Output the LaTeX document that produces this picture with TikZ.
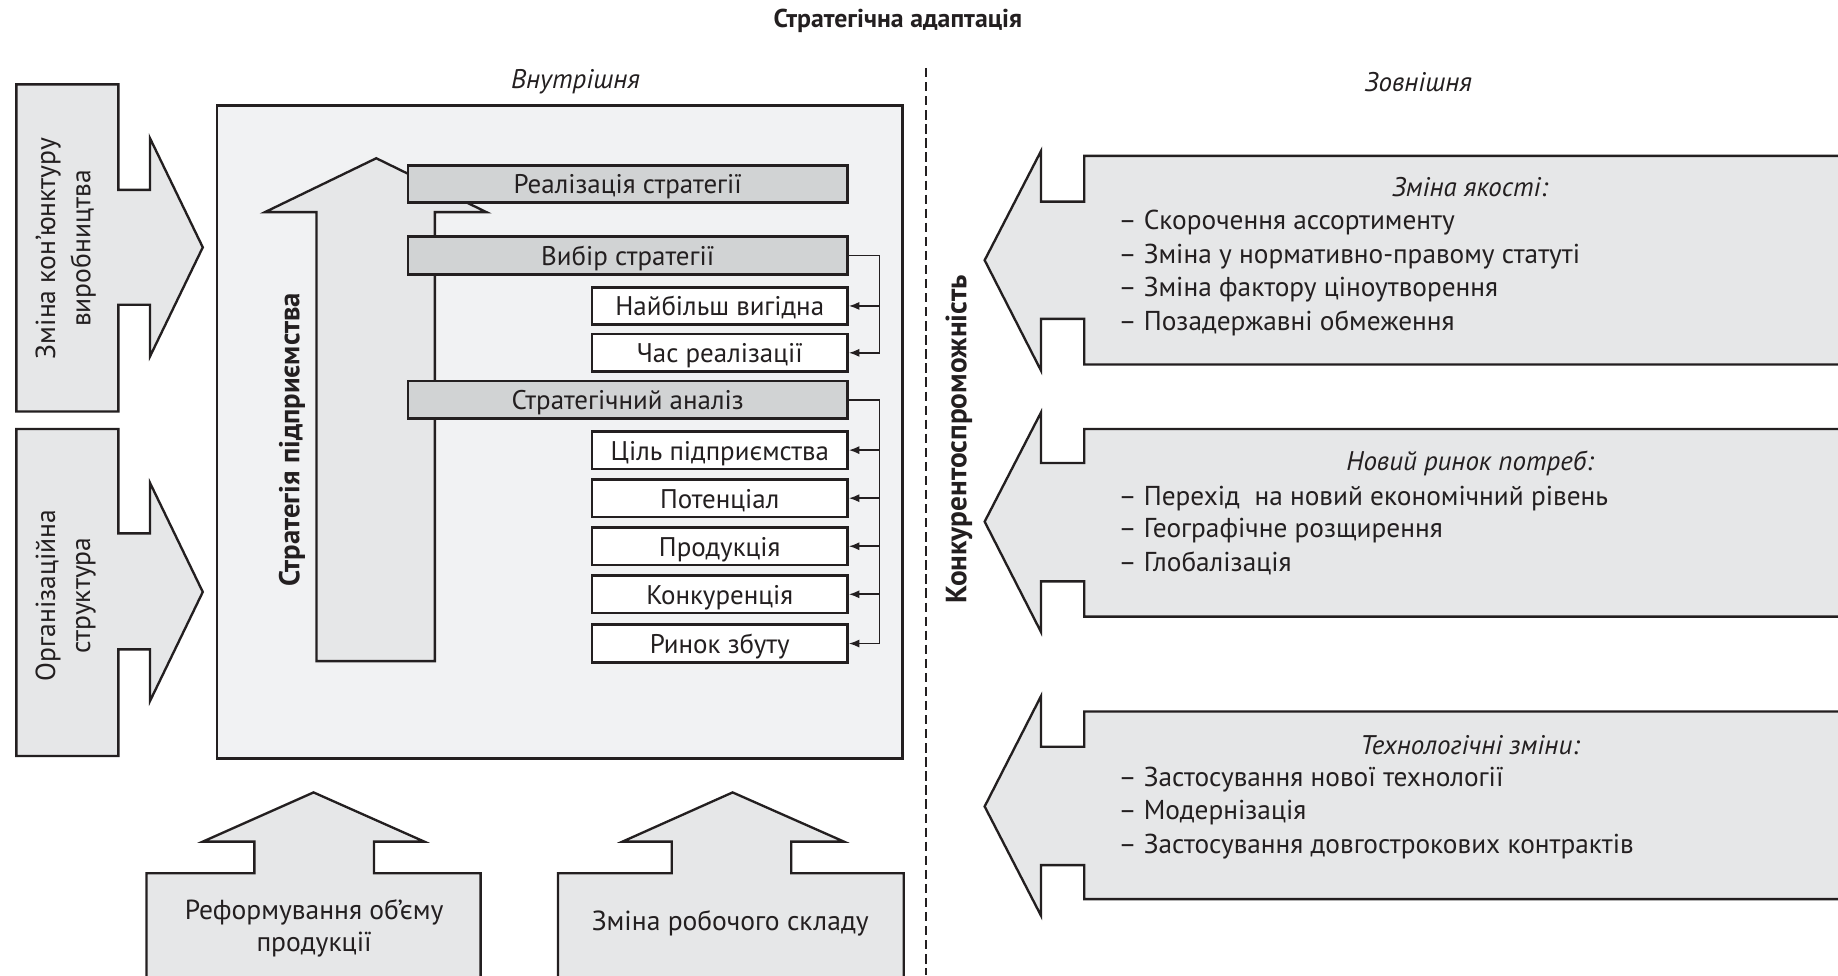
\documentclass[tikz,border=0pt]{standalone}
\usepackage{fontspec}
\setmainfont{PT Sans}
\usetikzlibrary{arrows.meta,calc}
\definecolor{txt}{HTML}{231F20}
\definecolor{bgbox}{HTML}{F1F2F3}
\definecolor{arrfill}{HTML}{E6E7E8}
\definecolor{barfill}{HTML}{D1D3D4}
\begin{document}
\begin{tikzpicture}[x=1pt,y=-1pt,line join=miter,
  blk/.style={draw=txt,fill=arrfill,line width=2pt},
  barbox/.style={draw=txt,fill=barfill,line width=2.3pt,minimum width=375pt,minimum height=32pt,inner sep=0pt,text height=17pt,text depth=0pt,font=\fontsize{23}{26}\selectfont,text=txt},
  wbox/.style={draw=txt,fill=white,line width=2.3pt,minimum width=218pt,minimum height=32pt,inner sep=0pt,text height=17pt,text depth=0pt,font=\fontsize{23}{26}\selectfont,text=txt},
  conn/.style={draw=txt,line width=1.4pt,-{Latex[length=9pt,width=7pt]}},
  lbl/.style={text=txt,inner sep=0pt,font=\fontsize{23.5}{26}\selectfont},
  vlbl/.style={text=txt,inner sep=0pt,rotate=90,align=center,font=\fontsize{23.5}{30}\selectfont},
  ital/.style={text=txt,inner sep=0pt,font=\fontsize{23}{26}\selectfont\itshape},
  item/.style={text=txt,inner sep=0pt,anchor=west,font=\fontsize{23.3}{26}\selectfont}]
\useasboundingbox (0,0) rectangle (1568,832);

% title and headings
\node[text=txt,inner sep=0pt,font=\fontsize{22}{24}\selectfont\bfseries] (title) at (766,18) {Стратегічна адаптація};
\node[ital] (vnutr) at (491,70) {Внутрішня};
\node[ital] (zovn) at (1210,70) {Зовнішня};
\draw[txt,line width=1.3pt,dash pattern=on 8pt off 4pt] (790,58) -- (790,832);

% left arrows
\draw[blk] (14,72) -- (101,72) -- (101,162) -- (128,162) -- (128,118) -- (173,211) -- (128,304) -- (128,260) -- (101,260) -- (101,351) -- (14,351) -- cycle;
\node[vlbl] (kon) at (56,212) {Зміна кон’юнктуру\\виробництва};
\draw[blk] (14,366) -- (101,366) -- (101,455) -- (128,455) -- (128,412) -- (173,505) -- (128,598) -- (128,554) -- (101,554) -- (101,645) -- (14,645) -- cycle;
\node[vlbl] (org) at (56,508) {Організаційна\\структура};

% inner box
\draw[txt,fill=bgbox,line width=2pt] (185,90) rectangle (770,647);

% big up arrow
\draw[blk] (270,564) -- (270,181) -- (226,181) -- (321,135) -- (415,181) -- (371,181) -- (371,564) -- cycle;
\node[vlbl,font=\fontsize{24.5}{28}\selectfont\bfseries] (strat) at (249,375) {Стратегія підприємства};

% bars and boxes
\node[barbox] (real) at (535.5,157) {Реалізація стратегії};
\node[barbox] (vyb) at (535.5,218) {Вибір стратегії};
\node[wbox] (naib) at (614,261) {Найбільш вигідна};
\node[wbox] (chas) at (614,301) {Час реалізації};
\node[barbox] (anal) at (535.5,341) {Стратегічний аналіз};
\node[wbox] (cil) at (614,384) {Ціль підприємства};
\node[wbox] (pot) at (614,425) {Потенціал};
\node[wbox] (prod) at (614,466) {Продукція};
\node[wbox] (konk) at (614,507) {Конкуренція};
\node[wbox] (rynok) at (614,549) {Ринок збуту};

\coordinate (b1) at ($(vyb.east)+(26,0)$);
\coordinate (b2) at ($(anal.east)+(26,0)$);
\draw[conn] (vyb.east) -- (b1) |- (chas.east);
\draw[conn] (b1 |- naib.east) -- (naib.east);
\draw[conn] (anal.east) -- (b2) |- (rynok.east);
\draw[conn] (b2 |- cil.east) -- (cil.east);
\draw[conn] (b2 |- pot.east) -- (pot.east);
\draw[conn] (b2 |- prod.east) -- (prod.east);
\draw[conn] (b2 |- konk.east) -- (konk.east);

% bottom arrows
\draw[blk] (125,834) -- (125,745) -- (217,745) -- (217,718) -- (173,718) -- (267.5,676) -- (362,718) -- (319,718) -- (319,745) -- (410,745) -- (410,834);
\node[lbl,align=center,font=\fontsize{23.5}{28}\selectfont] (reform) at (268,792) {Реформування об’єму\\продукції};
\draw[blk] (476,834) -- (476,745) -- (573,745) -- (573,718) -- (531,718) -- (625,676) -- (720,718) -- (675,718) -- (675,745) -- (771,745) -- (771,834);
\node[lbl] (robo) at (623,788) {Зміна робочого складу};

% right arrows
\draw[blk] (1570,133) -- (925,133) -- (925,172) -- (888,172) -- (888,129) -- (840,222) -- (888,316) -- (888,272) -- (925,272) -- (925,311) -- (1570,311);
\node[ital] (yak) at (1254,160) {Зміна якості:};
\node[item] (y1) at (954,190) {– Скорочення ассортименту};
\node[item] (y2) at (954,218.5) {– Зміна у нормативно-правому статуті};
\node[item] (y3) at (954,247) {– Зміна фактору ціноутворення};
\node[item] (y4) at (954,275.5) {– Позадержавні обмеження};

\draw[blk] (1570,366) -- (925,366) -- (925,395) -- (888,395) -- (888,352) -- (840,445) -- (888,539) -- (888,496) -- (925,496) -- (925,526) -- (1570,526);
\node[ital] (rin) at (1254,395) {Новий ринок потреб:};
\node[item] (r1) at (954,425) {– Перехід\ \ на новий економічний рівень};
\node[item] (r2) at (954,453) {– Географічне розщирення};
\node[item] (r3) at (954,480.5) {– Глобалізація};

\draw[blk] (1570,607) -- (925,607) -- (925,637) -- (888,637) -- (888,594) -- (840,688) -- (888,781) -- (888,738) -- (925,738) -- (925,767) -- (1570,767);
\node[ital] (teh) at (1254,636) {Технологічні зміни:};
\node[item] (t1) at (954,665) {– Застосування нової технології};
\node[item] (t2) at (954,693.5) {– Модернізація};
\node[item] (t3) at (954,722) {– Застосування довгострокових контрактів};

\node[vlbl,font=\fontsize{25}{28}\selectfont\bfseries] (konkur) at (818,375) {Конкурентоспроможність};
\end{tikzpicture}
\end{document}
